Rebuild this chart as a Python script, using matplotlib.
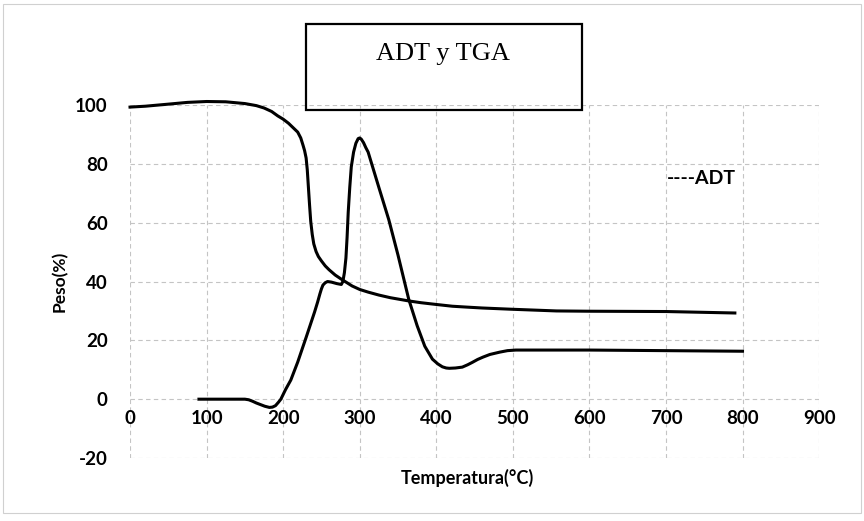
import matplotlib
matplotlib.use("Agg")
import matplotlib.pyplot as plt
from matplotlib.patches import Rectangle

# curva TGA (peso %)
tga_temp = [0, 20, 50, 75, 100, 125, 150, 165, 175, 185, 193, 200, 207, 213, 219, 223, 226,
            228, 230, 231.5, 233, 234.5, 236, 238, 240, 243, 246, 250, 255, 260, 268, 276,
            290, 300, 311, 325, 340, 364, 380, 400, 421, 440, 460, 496, 557, 600, 700, 790]
tga_peso = [99.3, 99.6, 100.3, 100.9, 101.2, 101.1, 100.5, 99.8, 99.0, 97.8, 96.3, 95.2,
            93.8, 92.3, 90.8, 88.8, 86.3, 84.5, 82.0, 78.0, 72.0, 66.0, 60.5, 56.0, 52.8,
            50.2, 48.5, 47.0, 45.3, 44.0, 42.2, 40.8, 38.5, 37.3, 36.4, 35.4, 34.5, 33.4,
            32.8, 32.2, 31.6, 31.3, 31.0, 30.6, 30.0, 29.9, 29.8, 29.3]

# curva ADT
adt_temp = [90, 120, 150, 155, 160, 165, 170, 176, 182, 186, 190, 194, 197, 203, 210, 219,
            230, 241, 245, 248, 250, 252, 255, 258, 263, 270, 276, 278, 280, 282, 283.5, 285,
            287, 289, 292, 295, 298, 300, 302, 305, 308, 311, 325, 338, 350, 364, 375, 385,
            395, 402, 408, 413, 417, 425, 434, 441, 447, 454, 461, 470, 483, 493, 504, 600,
            700, 800]
adt_val = [0, 0, 0, -0.2, -0.7, -1.3, -1.8, -2.4, -2.8, -2.7, -2.2, -1.0, 0, 3.2, 6.5, 12.6,
           21, 29.6, 33, 35.8, 37.5, 38.8, 39.6, 40, 39.8, 39.3, 39, 40, 43, 48, 55, 63.6,
           72, 79, 84, 87, 88.6, 88.8, 88.4, 87.2, 85.5, 84, 72, 61, 49, 34, 25, 18,
           13.6, 12, 11, 10.6, 10.5, 10.6, 10.9, 11.7, 12.5, 13.5, 14.3, 15.2, 16, 16.5,
           16.7, 16.7, 16.5, 16.3]

x_ticks = [0, 100, 200, 300, 400, 500, 600, 700, 800, 900]
y_ticks = [-20, 0, 20, 40, 60, 80, 100]

plt.rcParams['font.family'] = ['Lato', 'DejaVu Sans']
plt.rcParams['axes.unicode_minus'] = False

fig = plt.figure(figsize=(8.64, 5.21), dpi=100)
ax = fig.add_axes([0.1505, 0.1209, 0.7975, 0.6775])

ax.plot(tga_temp, tga_peso, color='black', lw=2.2, clip_on=False)
ax.plot(adt_temp, adt_val, color='black', lw=2.2, clip_on=False)

ax.set_xlim(0, 900)
ax.set_ylim(-20, 100)
ax.set_xticks(x_ticks)
ax.set_yticks(y_ticks)
ax.grid(True, color='#c4c4c4', ls=(0, (4, 3)), lw=0.8)

for s in ax.spines.values():
    s.set_visible(False)
ax.spines['bottom'].set_position(('data', 0))
ax.tick_params(axis='x', length=0, pad=8, labelsize=13.5)
ax.tick_params(axis='y', length=0, pad=16, labelsize=13.5)
for lab in ax.get_xticklabels() + ax.get_yticklabels():
    lab.set_fontweight('bold')

ax.set_ylabel('Peso(%)', fontsize=12.5, fontweight='bold')
ax.yaxis.set_label_coords(-0.09, 0.5)
fig.text(0.541, 0.083, 'Temperatura(°C)', fontsize=13, fontweight='bold',
         ha='center', va='center')

# recuadro del titulo
fig.patches.append(Rectangle((0.354, 0.789), 0.3194, 0.165, transform=fig.transFigure,
                             fill=False, edgecolor='black', lw=1.6))
fig.text(0.5127, 0.897, 'ADT y TGA', family='Liberation Serif', fontsize=19,
         ha='center', va='center')

fig.text(0.772, 0.658, '----ADT', fontsize=14, fontweight='bold', ha='left', va='center')

# borde del grafico
fig.patches.append(Rectangle((0.004, 0.015), 0.993, 0.978, transform=fig.transFigure,
                             fill=False, edgecolor='#d0d0d0', lw=0.8))

fig.savefig('out.png', dpi=100)
